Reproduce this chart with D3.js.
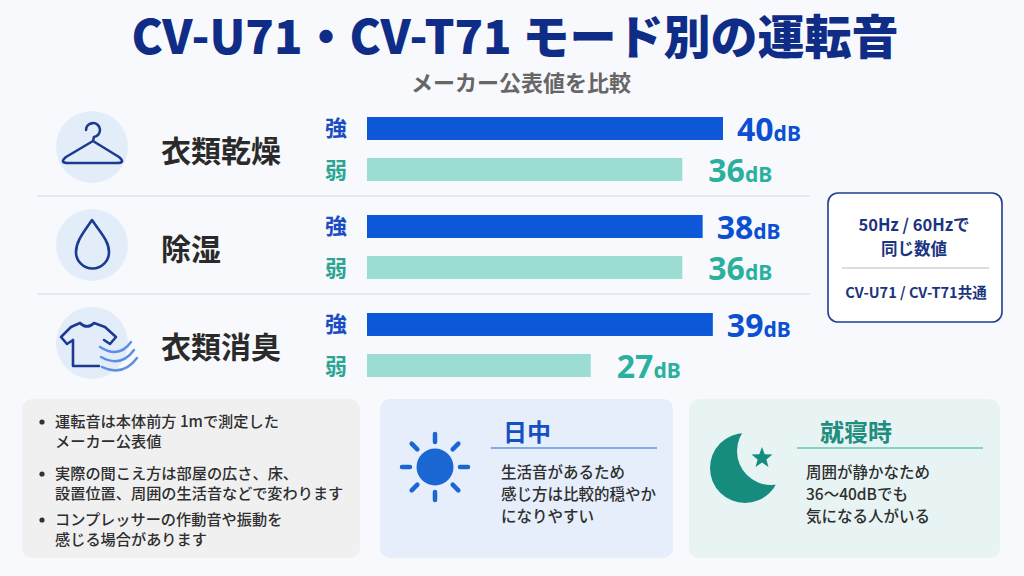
<!DOCTYPE html>
<html>
<head>
<meta charset="utf-8">
<script src="https://cdn.jsdelivr.net/npm/d3@7"></script>
<style>
  body { margin: 0; background: #f8f9fc; }
  svg { display: block; font-family: "Noto Sans CJK JP", "Noto Sans", sans-serif; }
</style>
</head>
<body>
<div id="chart"></div>
<script>
// data
var modes = ["衣類乾燥", "除湿", "衣類消臭"];
var levels = ["強", "弱"];
var strongValues = [40, 38, 39];
var weakValues = [36, 36, 27];
var unit = "dB";

var notes = [
  ["運転音は本体前方 1mで測定した", "メーカー公表値"],
  ["実際の聞こえ方は部屋の広さ、床、", "設置位置、周囲の生活音などで変わります"],
  ["コンプレッサーの作動音や振動を", "感じる場合があります"]
];
var dayLines = ["生活音があるため", "感じ方は比較的穏やか", "になりやすい"];
var nightLines = ["周囲が静かなため", "36〜40dBでも", "気になる人がいる"];

var svgWidth = 1024;
var svgHeight = 576;

var svg = d3.select("#chart")
  .append("svg")
  .attr("width", svgWidth)
  .attr("height", svgHeight);

svg.append("rect")
  .attr("width", svgWidth)
  .attr("height", svgHeight)
  .attr("fill", "#f8f9fc");

// title
svg.append("text")
  .attr("x", 515)
  .attr("y", 54)
  .attr("text-anchor", "middle")
  .attr("font-size", 47)
  .attr("font-weight", 900)
  .attr("fill", "#0f2d86")
  .text("CV-U71・CV-T71 モード別の運転音");

svg.append("text")
  .attr("x", 521)
  .attr("y", 91)
  .attr("text-anchor", "middle")
  .attr("font-size", 22)
  .attr("font-weight", 700)
  .attr("fill", "#666")
  .text("メーカー公表値を比較");

// scales
var x = d3.scaleLinear()
  .domain([5, 40])
  .range([367, 723]);

var y = d3.scaleBand()
  .domain(modes)
  .range([100, 394]);

var yInner = d3.scaleBand()
  .domain(levels)
  .range([17, 81])
  .paddingInner(0.44);

var levelColor = { "強": "#0c58d8", "弱": "#9bdcd3" };
var levelText = { "強": "#1a4cc2", "弱": "#2aa593" };
var valueText = { "強": "#0b50d2", "弱": "#2bb09f" };
var labelGap = { "強": 14, "弱": 26 };

var rows = [];
modes.forEach(function(m, i) {
  rows.push({ mode: m, level: "強", value: strongValues[i] });
  rows.push({ mode: m, level: "弱", value: weakValues[i] });
});

// separators
svg.selectAll(".sep")
  .data(modes.slice(1))
  .enter()
  .append("line")
  .attr("x1", 37)
  .attr("x2", 810)
  .attr("y1", d => y(d) - 2)
  .attr("y2", d => y(d) - 2)
  .attr("stroke", "#d8dadf")
  .attr("stroke-width", 1.2);

// icon circles
svg.selectAll(".iconbg")
  .data(modes)
  .enter()
  .append("circle")
  .attr("cx", 92)
  .attr("cy", d => y(d) + y.bandwidth() / 2 - 2)
  .attr("r", 36)
  .attr("fill", "#e3edfa");

// mode names
svg.selectAll(".mode")
  .data(modes)
  .enter()
  .append("text")
  .attr("x", 161)
  .attr("y", d => y(d) + y.bandwidth() / 2 + 13)
  .attr("font-size", 30)
  .attr("font-weight", 700)
  .attr("fill", "#2a2a2a")
  .text(d => d);

// icons
var iconStroke = "#1b3b91";
var g1 = y(modes[0]) + y.bandwidth() / 2 - 2;
svg.append("path")
  .attr("d", `M86,${g1 - 17} A7,7 0 1 1 94,${g1 - 10} L93,${g1 - 6} L66,${g1 + 10} Q59,${g1 + 16} 68,${g1 + 16} L117,${g1 + 16} Q126,${g1 + 16} 119,${g1 + 10} L93,${g1 - 6}`)
  .attr("fill", "none")
  .attr("stroke", iconStroke)
  .attr("stroke-width", 2.6)
  .attr("stroke-linejoin", "round")
  .attr("stroke-linecap", "round");

var g2 = y(modes[1]) + y.bandwidth() / 2 - 2;
svg.append("path")
  .attr("d", `M92,${g2 - 25} C84,${g2 - 13} 76,${g2 - 4} 76,${g2 + 7} A16.5,16.5 0 0 0 109,${g2 + 7} C109,${g2 - 4} 100,${g2 - 13} 92,${g2 - 25} Z`)
  .attr("fill", "none")
  .attr("stroke", iconStroke)
  .attr("stroke-width", 2.6)
  .attr("stroke-linejoin", "round");

var g3 = y(modes[2]) + y.bandwidth() / 2 - 2;
svg.append("path")
  .attr("d", `M80,${g3 - 20} Q87,${g3 - 13} 94,${g3 - 20} L105,${g3 - 16} L116,${g3 - 6} L110,${g3 + 1} L104,${g3 - 3} M73,${g3 - 3} L67,${g3 + 1} L61,${g3 - 6} L71,${g3 - 16} L80,${g3 - 20} M73,${g3 - 3} L73,${g3 + 23} L99,${g3 + 23}`)
  .attr("fill", "none")
  .attr("stroke", iconStroke)
  .attr("stroke-width", 2.6)
  .attr("stroke-linejoin", "round")
  .attr("stroke-linecap", "round");

svg.selectAll(".wind")
  .data([0, 1, 2])
  .enter()
  .append("path")
  .attr("d", d => `M${100 + d},${g3 + 4 + d * 10} Q${119 + d * 2},${g3 + 16 + d * 9} ${131 + d * 3},${g3 - 1 + d * 8}`)
  .attr("fill", "none")
  .attr("stroke", "#5a8fe3")
  .attr("stroke-width", 2.4)
  .attr("stroke-linecap", "round");

// level labels
svg.selectAll(".level")
  .data(rows)
  .enter()
  .append("text")
  .attr("x", 336)
  .attr("y", d => y(d.mode) + yInner(d.level) + yInner.bandwidth() / 2 + 8)
  .attr("text-anchor", "middle")
  .attr("font-size", 22)
  .attr("font-weight", 700)
  .attr("fill", d => levelText[d.level])
  .text(d => d.level);

// bars
svg.selectAll(".bar")
  .data(rows)
  .enter()
  .append("rect")
  .attr("x", x(5))
  .attr("y", d => y(d.mode) + yInner(d.level))
  .attr("width", d => x(d.value) - x(5))
  .attr("height", yInner.bandwidth())
  .attr("fill", d => levelColor[d.level]);

// value labels
var vals = svg.selectAll(".val")
  .data(rows)
  .enter()
  .append("text")
  .attr("x", d => x(d.value) + labelGap[d.level])
  .attr("y", d => y(d.mode) + yInner(d.level) + yInner.bandwidth() + 1)
  .attr("font-family", "'Noto Sans', 'Noto Sans CJK JP', sans-serif")
  .attr("font-weight", 700)
  .attr("fill", d => valueText[d.level]);

vals.append("tspan")
  .attr("font-size", 32)
  .text(d => d.value);

vals.append("tspan")
  .attr("font-size", 21)
  .text(unit);

// right note box
svg.append("rect")
  .attr("x", 828)
  .attr("y", 193)
  .attr("width", 174)
  .attr("height", 129)
  .attr("rx", 10)
  .attr("fill", "#fff")
  .attr("stroke", "#203c93")
  .attr("stroke-width", 1.6);

svg.append("text")
  .attr("x", 914)
  .attr("y", 231)
  .attr("text-anchor", "middle")
  .attr("font-size", 16.5)
  .attr("font-weight", 700)
  .attr("fill", "#1b3480")
  .text("50Hz / 60Hzで");

svg.append("text")
  .attr("x", 914)
  .attr("y", 255)
  .attr("text-anchor", "middle")
  .attr("font-size", 16.5)
  .attr("font-weight", 700)
  .attr("fill", "#1b3480")
  .text("同じ数値");

svg.append("line")
  .attr("x1", 842)
  .attr("x2", 989)
  .attr("y1", 268)
  .attr("y2", 268)
  .attr("stroke", "#bbb")
  .attr("stroke-width", 1.2);

svg.append("text")
  .attr("x", 916)
  .attr("y", 298)
  .attr("text-anchor", "middle")
  .attr("font-size", 14.5)
  .attr("font-weight", 700)
  .attr("fill", "#1b3480")
  .text("CV-U71 / CV-T71共通");

// bottom panels
svg.append("rect")
  .attr("x", 22).attr("y", 399)
  .attr("width", 338).attr("height", 159)
  .attr("rx", 10)
  .attr("fill", "#f0f0f1");

svg.append("rect")
  .attr("x", 380).attr("y", 399)
  .attr("width", 293).attr("height", 159)
  .attr("rx", 10)
  .attr("fill", "#e5eefa");

svg.append("rect")
  .attr("x", 689).attr("y", 399)
  .attr("width", 311).attr("height", 159)
  .attr("rx", 10)
  .attr("fill", "#e8f4f3");

// notes
var noteY = [427, 479, 525];
notes.forEach(function(lines, i) {
  svg.append("circle")
    .attr("cx", 42)
    .attr("cy", noteY[i] - 5)
    .attr("r", 2.6)
    .attr("fill", "#333");
  lines.forEach(function(line, j) {
    svg.append("text")
      .attr("x", 55)
      .attr("y", noteY[i] + j * 20)
      .attr("font-size", 15.2)
      .attr("font-weight", 500)
      .attr("fill", "#2e2e2e")
      .text(line);
  });
});

// day panel
var sunX = 435, sunY = 467;
svg.append("circle")
  .attr("cx", sunX).attr("cy", sunY)
  .attr("r", 18.5)
  .attr("fill", "#1a67d3");

svg.selectAll(".ray")
  .data(d3.range(8))
  .enter()
  .append("line")
  .attr("x1", d => sunX + 25 * Math.cos(d * Math.PI / 4))
  .attr("y1", d => sunY + 25 * Math.sin(d * Math.PI / 4))
  .attr("x2", d => sunX + 33 * Math.cos(d * Math.PI / 4))
  .attr("y2", d => sunY + 33 * Math.sin(d * Math.PI / 4))
  .attr("stroke", "#1a67d3")
  .attr("stroke-width", 4.5)
  .attr("stroke-linecap", "round");

svg.append("text")
  .attr("x", 503)
  .attr("y", 441)
  .attr("font-size", 24)
  .attr("font-weight", 700)
  .attr("fill", "#1550c2")
  .text("日中");

svg.append("line")
  .attr("x1", 491).attr("x2", 657)
  .attr("y1", 448).attr("y2", 448)
  .attr("stroke", "#5f93e0")
  .attr("stroke-width", 1.4);

dayLines.forEach(function(line, j) {
  svg.append("text")
    .attr("x", 501)
    .attr("y", 478 + j * 22)
    .attr("font-size", 15.5)
    .attr("font-weight", 500)
    .attr("fill", "#2e2e2e")
    .text(line);
});

// night panel
var defs = svg.append("defs");
var mask = defs.append("mask").attr("id", "moonMask");
mask.append("rect")
  .attr("x", 690).attr("y", 400)
  .attr("width", 120).attr("height", 140)
  .attr("fill", "#fff");
mask.append("circle")
  .attr("cx", 771).attr("cy", 451)
  .attr("r", 34)
  .attr("fill", "#000");

svg.append("circle")
  .attr("cx", 745).attr("cy", 468)
  .attr("r", 35)
  .attr("fill", "#168c7f")
  .attr("mask", "url(#moonMask)");

var starPts = d3.range(10).map(function(k) {
  var r = k % 2 === 0 ? 11 : 4.6;
  var a = -Math.PI / 2 + k * Math.PI / 5;
  return [762 + r * Math.cos(a), 458 + r * Math.sin(a)];
});
svg.append("path")
  .attr("d", d3.line()(starPts) + "Z")
  .attr("fill", "#168c7f");

svg.append("text")
  .attr("x", 820)
  .attr("y", 441)
  .attr("font-size", 24)
  .attr("font-weight", 700)
  .attr("fill", "#1f8d7f")
  .text("就寝時");

svg.append("line")
  .attr("x1", 797).attr("x2", 983)
  .attr("y1", 448).attr("y2", 448)
  .attr("stroke", "#6cc3b6")
  .attr("stroke-width", 1.4);

nightLines.forEach(function(line, j) {
  svg.append("text")
    .attr("x", 806)
    .attr("y", 478 + j * 22)
    .attr("font-size", 15.5)
    .attr("font-weight", 500)
    .attr("fill", "#2e2e2e")
    .text(line);
});
</script>
</body>
</html>
